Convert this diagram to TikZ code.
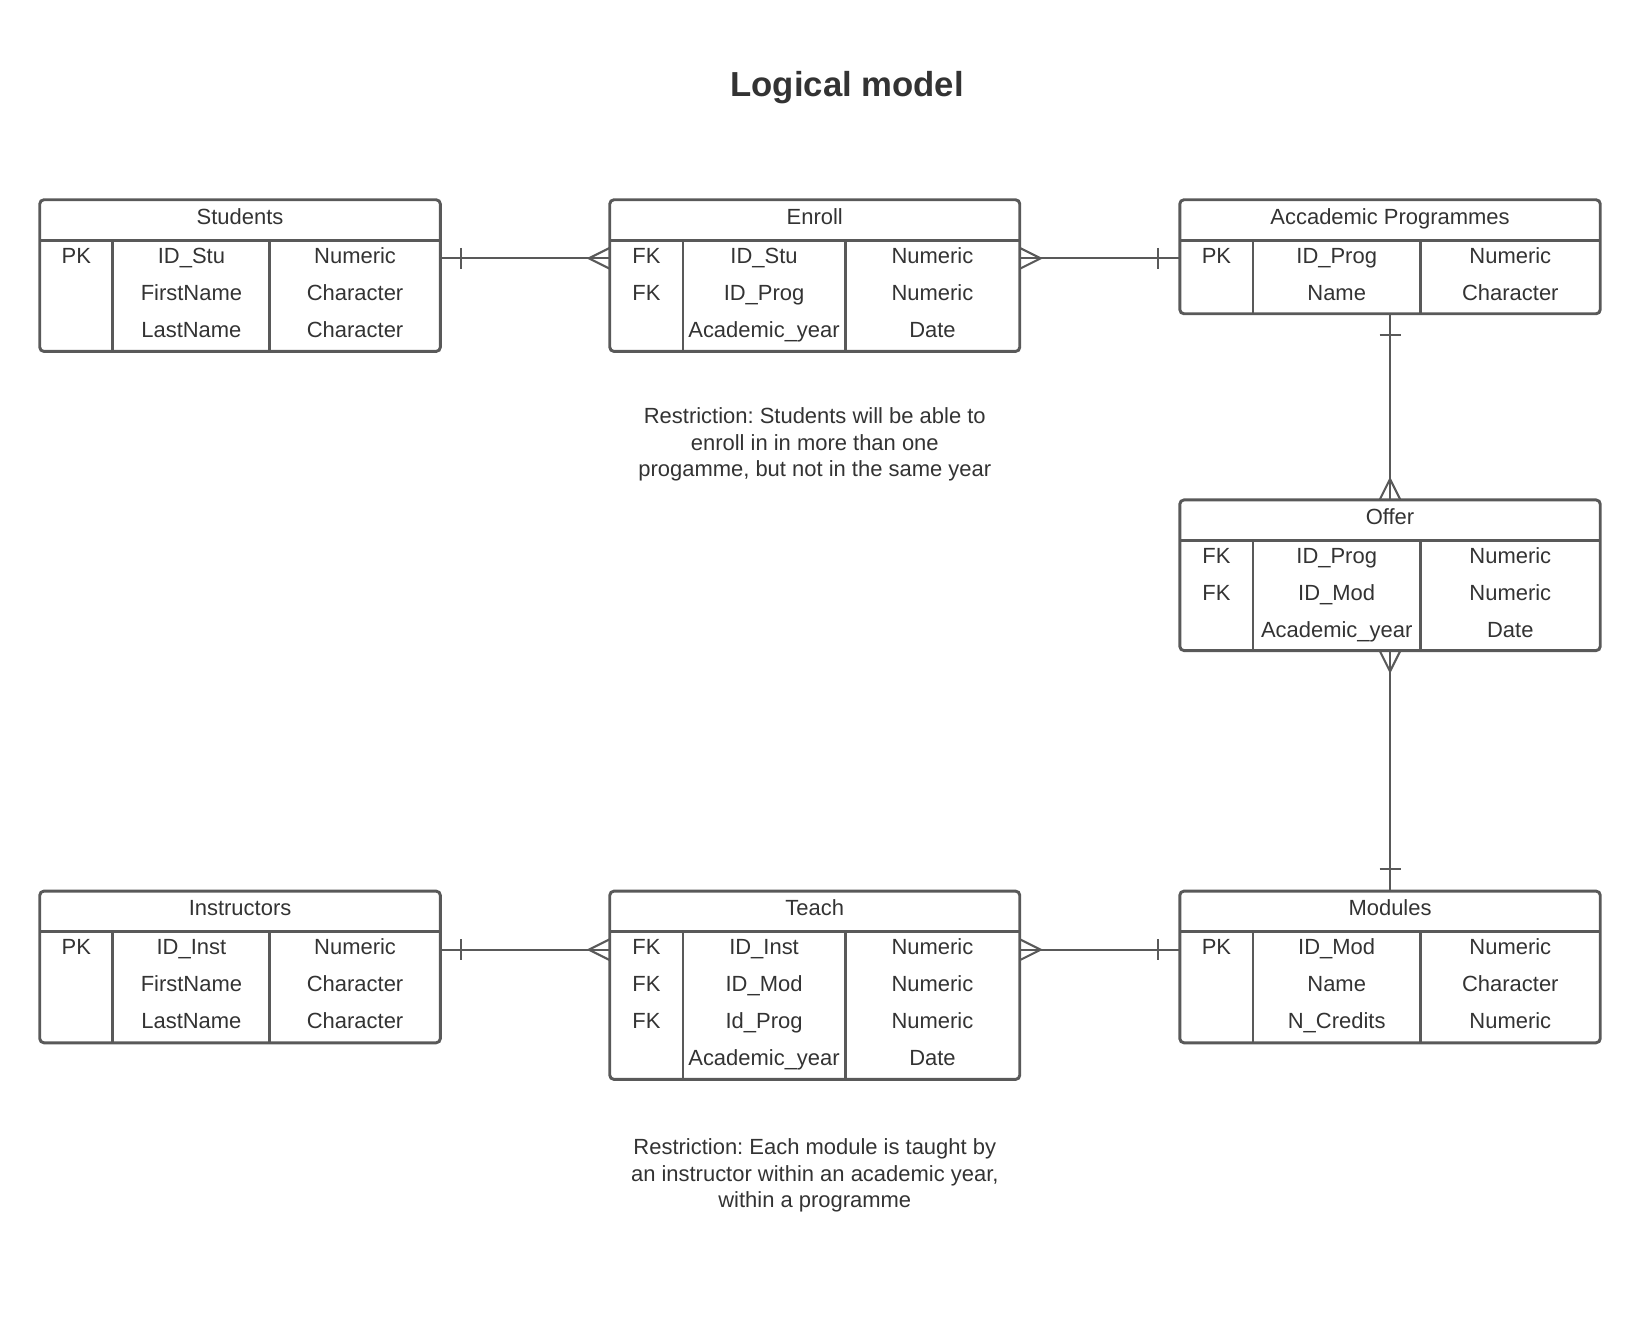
\documentclass[tikz,border=0pt]{standalone}
\usepackage{fontspec}
\setmainfont{Liberation Sans}
\frenchspacing
\usetikzlibrary{calc}
\definecolor{lc}{HTML}{595959}
\definecolor{tc}{HTML}{333333}
\tikzset{
  erbox/.style={draw=lc, line width=1.4pt, rounded corners=2pt, inner sep=0pt, outer sep=0pt, fill=none},
  erline/.style={draw=lc, line width=1.4pt},
  ertext/.style={inner sep=0pt, text=tc, font=\fontsize{10.5pt}{12.5pt}\selectfont, text height=7.5pt, text depth=0pt},
  conn/.style={draw=lc, line width=1pt},
  note/.style={inner sep=0pt, text=tc, align=center, font=\fontsize{10.5pt}{12.6pt}\selectfont},
}
\newcommand{\ertab}[9]{%
  \node[erbox, anchor=north west, minimum width={(#5-#2)*0.5pt}, minimum height={(#7-#6)*0.5pt}] (#1) at (#2,#6) {};
  \draw[erline] (#2,#6+39) -- (#5,#6+39);
  \draw[erline] (#3,#6+39) -- (#3,#7);
  \draw[erline] (#4,#6+39) -- (#4,#7);
  \node[ertext] (#1-h) at ({(#2+#5)/2},#6+16) {#8};
  \foreach \k/\n/\t [count=\i from 0] in {#9} {
    \node[ertext] (#1-k\i) at ({(#2+#3)/2},{#6+53+35.5*\i}) {\k};
    \node[ertext] (#1-n\i) at ({(#3+#4)/2},{#6+53+35.5*\i}) {\n};
    \node[ertext] (#1-t\i) at ({(#4+#5)/2},{#6+53+35.5*\i}) {\t};
  }%
}
\begin{document}
\begin{tikzpicture}[x={(0.5pt,0)}, y={(0,-0.5pt)}]
\useasboundingbox (0,0) rectangle (1568,1267);
\node[inner sep=0pt, text=tc, font=\fontsize{16.6pt}{20pt}\selectfont\bfseries, text height=12pt, text depth=0pt] (title) at (810,80) {Logical model};

\ertab{stu}{38}{108}{258}{421}{191}{336}{Students}{PK/ID\_Stu/Numeric, /FirstName/Character, /LastName/Character}
\ertab{enr}{583}{653}{808}{975}{191}{336}{Enroll}{FK/ID\_Stu/Numeric, FK/ID\_Prog/Numeric, /Academic\_year/Date}
\ertab{prog}{1128}{1198}{1358}{1530}{191}{300}{Accademic Programmes}{PK/ID\_Prog/Numeric, /Name/Character}
\ertab{off}{1128}{1198}{1358}{1530}{478}{622}{Offer}{FK/ID\_Prog/Numeric, FK/ID\_Mod/Numeric, /Academic\_year/Date}
\ertab{ins}{38}{108}{258}{421}{852}{997}{Instructors}{PK/ID\_Inst/Numeric, /FirstName/Character, /LastName/Character}
\ertab{tea}{583}{653}{808}{975}{852}{1032}{Teach}{FK/ID\_Inst/Numeric, FK/ID\_Mod/Numeric, FK/Id\_Prog/Numeric, /Academic\_year/Date}
\ertab{mod}{1128}{1198}{1358}{1530}{852}{997}{Modules}{PK/ID\_Mod/Numeric, /Name/Character, /N\_Credits/Numeric}

\node[note] (r1) at (779,425) {Restriction: Students will be able to\\enroll in in more than one\\progamme, but not in the same year};
\node[note] (r2) at (779,1124) {Restriction: Each module is taught by\\an instructor within an academic year,\\within a programme};

% connector end points on the box edges
\coordinate (a1) at ($(stu.north east)+(0,56)$);
\coordinate (b1) at ($(enr.north west)+(0,56)$);
\coordinate (a2) at ($(enr.north east)+(0,56)$);
\coordinate (b2) at ($(prog.north west)+(0,56)$);
\coordinate (a3) at ($(ins.north east)+(0,56)$);
\coordinate (b3) at ($(tea.north west)+(0,56)$);
\coordinate (a4) at ($(tea.north east)+(0,56)$);
\coordinate (b4) at ($(mod.north west)+(0,56)$);
\coordinate (a5) at (prog.south);
\coordinate (b5) at (off.north);
\coordinate (a6) at (off.south);
\coordinate (b6) at (mod.north);

% Students - Enroll : one to many
\draw[conn] (a1) -- (b1);
\draw[conn] ($(a1)+(20,-10)$) -- ($(a1)+(20,10)$);
\draw[conn] ($(b1)+(0,-10)$) -- ($(b1)+(-20,0)$) -- ($(b1)+(0,10)$);
% Enroll - Programmes : many to one
\draw[conn] (a2) -- (b2);
\draw[conn] ($(a2)+(0,-10)$) -- ($(a2)+(20,0)$) -- ($(a2)+(0,10)$);
\draw[conn] ($(b2)+(-21,-10)$) -- ($(b2)+(-21,10)$);
% Instructors - Teach
\draw[conn] (a3) -- (b3);
\draw[conn] ($(a3)+(20,-10)$) -- ($(a3)+(20,10)$);
\draw[conn] ($(b3)+(0,-10)$) -- ($(b3)+(-20,0)$) -- ($(b3)+(0,10)$);
% Teach - Modules
\draw[conn] (a4) -- (b4);
\draw[conn] ($(a4)+(0,-10)$) -- ($(a4)+(20,0)$) -- ($(a4)+(0,10)$);
\draw[conn] ($(b4)+(-21,-10)$) -- ($(b4)+(-21,10)$);
% Programmes - Offer
\draw[conn] (a5) -- (b5);
\draw[conn] ($(a5)+(-10,20)$) -- ($(a5)+(10,20)$);
\draw[conn] ($(b5)+(-10,0)$) -- ($(b5)+(0,-20)$) -- ($(b5)+(10,0)$);
% Offer - Modules
\draw[conn] (a6) -- (b6);
\draw[conn] ($(a6)+(-10,0)$) -- ($(a6)+(0,20)$) -- ($(a6)+(10,0)$);
\draw[conn] ($(b6)+(-10,-21)$) -- ($(b6)+(10,-21)$);
\end{tikzpicture}
\end{document}
